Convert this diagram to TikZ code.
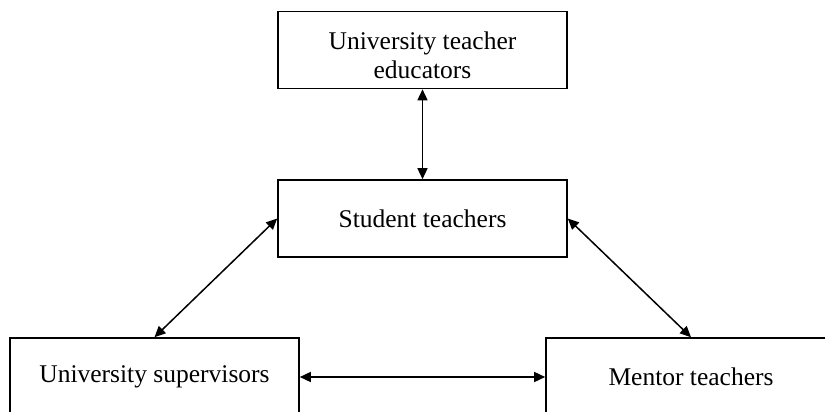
\documentclass[tikz,border=0pt]{standalone}
\usepackage{fontspec}
\setmainfont{Liberation Serif}
\usetikzlibrary{arrows.meta}

\begin{document}
\begin{tikzpicture}[x=1pt, y=-1pt,
  actor/.style={draw, line width=1.6pt, minimum width=289pt, minimum height=77pt, inner sep=0pt, align=center, font=\fontsize{25.5}{29}\selectfont},
  link/.style={{Triangle[length=11pt,width=10pt]}-{Triangle[length=11pt,width=10pt]}, line width=1.5pt}]

 \useasboundingbox (0,0) rectangle (825,412);
 \clip (0,0) rectangle (825,412);

 %%%%%%%%%% Boxes %%%%%%%%%%
 \node[actor] (educ) at (422.5,50) {\rule{0pt}{28pt}University teacher\\educators};
 \node[actor] (stud) at (422.5,218.5) {Student teachers};
 \node[actor, minimum height=78pt] (superv) at (154.5,377) {University supervisors};
 \node[actor, minimum height=78pt, minimum width=290pt] (mentor) at (691,377) {Mentor teachers};

 %%%%%%%%%% Links %%%%%%%%%%
 \draw [link] (educ.south) -- (stud.north) ;
 \draw [link] (stud.west) -- (superv.north) ;
 \draw [link] (stud.east) -- (mentor.north) ;
 \draw [link] (superv.east) -- (mentor.west) ;

\end{tikzpicture}
\end{document}
